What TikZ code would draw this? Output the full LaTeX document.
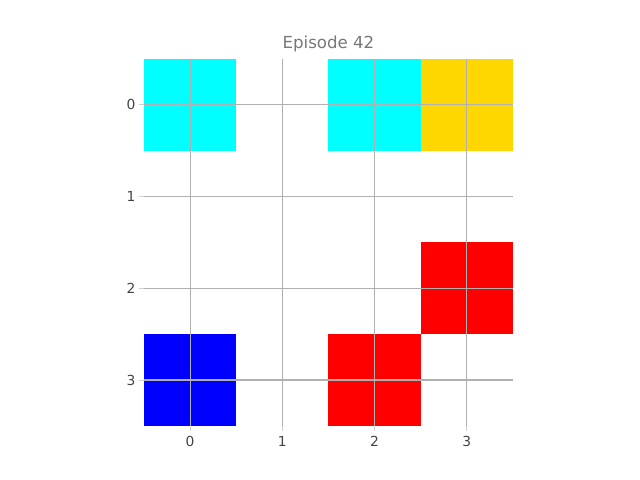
\documentclass[tikz,border=0pt]{standalone}
\usepackage{fontspec}
\setmainfont{DejaVu Sans}
\usetikzlibrary{positioning}

\definecolor{gridgray}{HTML}{B0B0B0}
\definecolor{ticktext}{HTML}{444444}
\definecolor{titletext}{HTML}{777777}
\definecolor{cellcyan}{HTML}{00FFFF}
\definecolor{cellgold}{HTML}{FFD700}
\definecolor{cellred}{HTML}{FF0000}
\definecolor{cellblue}{HTML}{0000FF}

\tikzset{
  gridline/.style={gridgray, line width=0.8pt},
  tickmark/.style={gridgray!60, line width=0.6pt},
  ticklabel/.style={text=ticktext, font=\fontsize{10}{12}\selectfont, inner sep=0pt},
}

\begin{document}
\begin{tikzpicture}[x=2.343cm, y=-2.330cm]

\useasboundingbox (-2.061,-1.143) rectangle (4.877,4.088);

% cells
\fill[cellcyan] (-0.5,-0.5) rectangle (0.5,0.5); % agent
\fill[cellcyan] (1.5,-0.5) rectangle (2.5,0.5);
\fill[cellgold] (2.5,-0.5) rectangle (3.5,0.5); % goal
\fill[cellred] (2.5,1.5) rectangle (3.5,2.5);
\fill[cellred] (1.5,2.5) rectangle (2.5,3.5);
\fill[cellblue] (-0.5,2.5) rectangle (0.5,3.5);

% grid
\draw[gridline] (0,-0.5) -- (0,3.5);
\draw[gridline] (1,-0.5) -- (1,3.5);
\draw[gridline] (2,-0.5) -- (2,3.5);
\draw[gridline] (3,-0.5) -- (3,3.5);
\draw[gridline] (-0.5,0) -- (3.5,0);
\draw[gridline] (-0.5,1) -- (3.5,1);
\draw[gridline] (-0.5,2) -- (3.5,2);
\draw[gridline] (-0.5,3) -- (3.5,3);

% ticks
\draw[tickmark] (-0.5,0) -- (-0.553,0);
\draw[tickmark] (-0.5,1) -- (-0.553,1);
\draw[tickmark] (-0.5,2) -- (-0.553,2);
\draw[tickmark] (-0.5,3) -- (-0.553,3);
\draw[tickmark] (0,3.5) -- (0,3.553);
\draw[tickmark] (1,3.5) -- (1,3.553);
\draw[tickmark] (2,3.5) -- (2,3.553);
\draw[tickmark] (3,3.5) -- (3,3.553);

\node[ticklabel, anchor=east] (y0) at (-0.59,0) {0};
\node[ticklabel, anchor=east] (y1) at (-0.59,1) {1};
\node[ticklabel, anchor=east] (y2) at (-0.59,2) {2};
\node[ticklabel, anchor=east] (y3) at (-0.59,3) {3};
\node[ticklabel, anchor=north] (x0) at (0,3.61) {0};
\node[ticklabel, anchor=north] (x1) at (1,3.61) {1};
\node[ticklabel, anchor=north] (x2) at (2,3.61) {2};
\node[ticklabel, anchor=north] (x3) at (3,3.61) {3};

\node[text=titletext, font=\fontsize{12}{14}\selectfont, inner sep=0pt, anchor=base] (title) at (1.5,-0.615) {Episode 42};

\end{tikzpicture}
\end{document}
